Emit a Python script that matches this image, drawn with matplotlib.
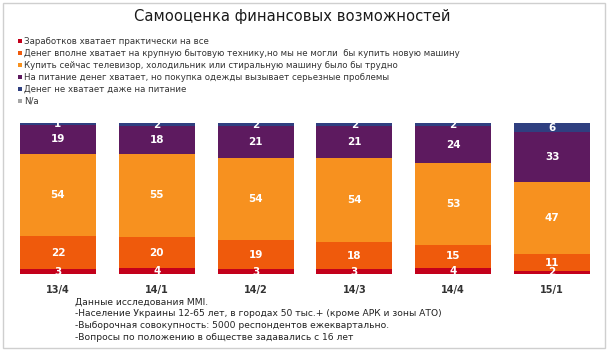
import numpy as np
import matplotlib.pyplot as plt
from matplotlib.patches import Rectangle

# quarters
periods = ["13/4", "14/1", "14/2", "14/3", "14/4", "15/1"]

# answers, bottom to top
enough_all = [3, 4, 3, 3, 4, 2]
enough_appliances = [22, 20, 19, 18, 15, 11]
hard_tv = [54, 55, 54, 54, 53, 47]
food_only = [19, 18, 21, 21, 24, 33]
no_food = [1, 2, 2, 2, 2, 6]
n_a = [0, 0, 0, 0, 0, 0]

series_names = [
    "Заработков хватает практически на все",
    "Денег вполне хватает на крупную бытовую технику,но мы не могли  бы купить новую машину",
    "Купить сейчас телевизор, холодильник или стиральную машину было бы трудно",
    "На питание денег хватает, но покупка одежды вызывает серьезные проблемы",
    "Денег не хватает даже на питание",
    "N/a",
]
colors = ["#c3001b", "#ef5a0c", "#f7911f", "#5d1a5f", "#2f3f80", "#a6a6a6"]

notes = [
    "Данные исследования MMI.",
    "-Население Украины 12-65 лет, в городах 50 тыс.+ (кроме АРК и зоны АТО)",
    "-Выборочная совокупность: 5000 респондентов ежеквартально.",
    "-Вопросы по положению в обществе задавались с 16 лет",
]

data = np.array([enough_all, enough_appliances, hard_tv, food_only, no_food, n_a], dtype=float)
totals = data.sum(axis=0)
shares = data / totals * 100  # 100% stacked like the source chart

fig = plt.figure(figsize=(6.1, 3.52), dpi=100)
fig.patches.append(Rectangle((3 / 610, 4 / 352), 602 / 610, 345 / 352, transform=fig.transFigure,
                             fill=False, edgecolor="#cfcfcf", linewidth=1))

fig.text(292 / 610, 1 - 16 / 352, "Самооценка финансовых возможностей", ha="center", va="center",
         fontsize=10.6, color="#1a1a1a")

# legend drawn by hand as a plain list
for i, (name, c) in enumerate(zip(series_names, colors)):
    y = 1 - (41 + i * 12) / 352
    fig.patches.append(Rectangle((18 / 610, y - 2 / 352), 4 / 610, 4 / 352, transform=fig.transFigure,
                                 facecolor=c, edgecolor="none"))
    fig.text(24 / 610, y, name, ha="left", va="center", fontsize=6.2, color="#333333")

ax = fig.add_axes([8.5 / 610, 1 - 274 / 352, 593 / 610, 151 / 352])
x = np.arange(len(periods))
bottom = np.zeros(len(periods))
for k in range(len(data)):
    ax.bar(x, shares[k], 0.77, bottom=bottom, color=colors[k], edgecolor="none")
    for j in range(len(periods)):
        if data[k, j] > 0:
            ax.text(x[j], bottom[j] + shares[k, j] / 2, f"{int(data[k, j])}", ha="center", va="center",
                    fontsize=7.5, fontweight="bold", color="white")
    bottom += shares[k]

ax.set_xlim(-0.5, len(periods) - 0.5)
ax.set_ylim(0, 100)
ax.set_yticks([])
ax.set_xticks(x)
ax.set_xticklabels(periods, fontsize=7, fontweight="bold", color="#333333")
ax.tick_params(axis="x", length=0, pad=8)
for s in ax.spines.values():
    s.set_visible(False)

for i, line in enumerate(notes):
    fig.text(75 / 610, 1 - (302 + i * 12) / 352, line, ha="left", va="center", fontsize=6.6,
             color="#222222")

fig.savefig("out.png", dpi=100)
